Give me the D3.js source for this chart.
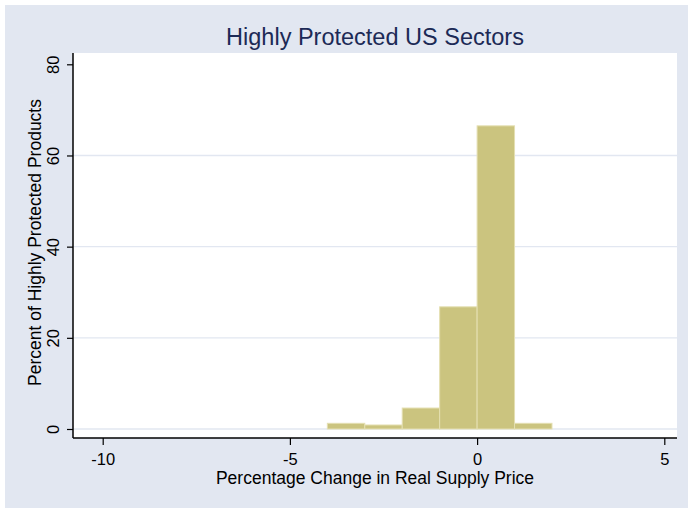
<!DOCTYPE html>
<html><head><meta charset="utf-8">
<script src="https://cdn.jsdelivr.net/npm/d3@7"></script>
<style>body{margin:0;background:#fff;}svg{display:block;font-family:"Liberation Sans",Arial,sans-serif;}</style>
</head><body><svg id="c" width="688" height="508"></svg>
<script>
const binStarts = [-4, -3, -2, -1, 0, 1];
const binWidth = 1;
const percents = [1.25, 0.88, 4.6, 26.8, 66.5, 1.25];
const xTicks = [-10, -5, 0, 5];
const yTicks = [0, 20, 40, 60, 80];
const yGrid = [0, 20, 40, 60];
const title = "Highly Protected US Sectors";
const xTitle = "Percentage Change in Real Supply Price";
const yTitle = "Percent of Highly Protected Products";

const svg = d3.select("#c");
svg.append("rect").attr("x",5).attr("y",5).attr("width",683).attr("height",503).attr("fill","#e2e7f1");
const L=73,R=677,T=53,B=438;
svg.append("rect").attr("x",L).attr("y",T).attr("width",R-L).attr("height",B-T).attr("fill","#fff");

const x = d3.scaleLinear().domain([-10,5]).range([102.7,664.3]);
const y = d3.scaleLinear().domain([0,80]).range([429,64.3]);

svg.append("g").selectAll("line").data(yGrid).join("line")
  .attr("x1",L).attr("x2",R).attr("y1",d=>y(d)).attr("y2",d=>y(d))
  .attr("stroke","#e2e7f1").attr("stroke-width",1.3);

svg.append("g").selectAll("rect").data(binStarts).join("rect")
  .attr("x",(d)=>x(d)).attr("width",d=>x(d+binWidth)-x(d))
  .attr("y",(d,i)=>y(percents[i])).attr("height",(d,i)=>y(0)-y(percents[i]))
  .attr("fill","#cbc47f").attr("stroke","#e4dfb2").attr("stroke-width",1);

// axes
const xa = svg.append("g").attr("transform",`translate(0,${B})`)
  .call(d3.axisBottom(x).tickValues(xTicks).tickSize(7).tickPadding(8).tickFormat(d3.format("d")));
xa.select(".domain").remove();
xa.append("line").attr("x1",L).attr("x2",R).attr("stroke","#000").attr("stroke-width",1.5);
xa.selectAll(".tick line").attr("stroke","#000").attr("stroke-width",1.2);
xa.selectAll(".tick text").attr("font-size",16.5).attr("fill","#000").attr("font-family","Liberation Sans, Arial, sans-serif").text(d=>d<0?"-"+Math.abs(d):d);

const ya = svg.append("g").attr("transform",`translate(${L},0)`)
  .call(d3.axisLeft(y).tickValues(yTicks).tickSize(6).tickFormat(d3.format("d")));
ya.select(".domain").remove();
ya.append("line").attr("y1",T).attr("y2",B).attr("stroke","#000").attr("stroke-width",1.5);
ya.selectAll(".tick line").attr("stroke","#000").attr("stroke-width",1.2);
ya.selectAll(".tick text").attr("font-size",16.5).attr("fill","#000").attr("font-family","Liberation Sans, Arial, sans-serif")
  .attr("x",null).attr("dy",null).attr("text-anchor","middle")
  .attr("transform","translate(-14,0) rotate(-90)").attr("y",0);

svg.append("text").attr("x",(L+R)/2).attr("y",45).attr("text-anchor","middle")
  .attr("font-size",23.5).attr("fill","#1c2a56").text(title);
svg.append("text").attr("x",(L+R)/2).attr("y",484).attr("text-anchor","middle")
  .attr("font-size",17.5).attr("fill","#000").text(xTitle);
svg.append("text").attr("transform",`translate(41,${(T+B)/2-3}) rotate(-90)`).attr("text-anchor","middle")
  .attr("font-size",17.5).attr("fill","#000").text(yTitle);
</script></body></html>
